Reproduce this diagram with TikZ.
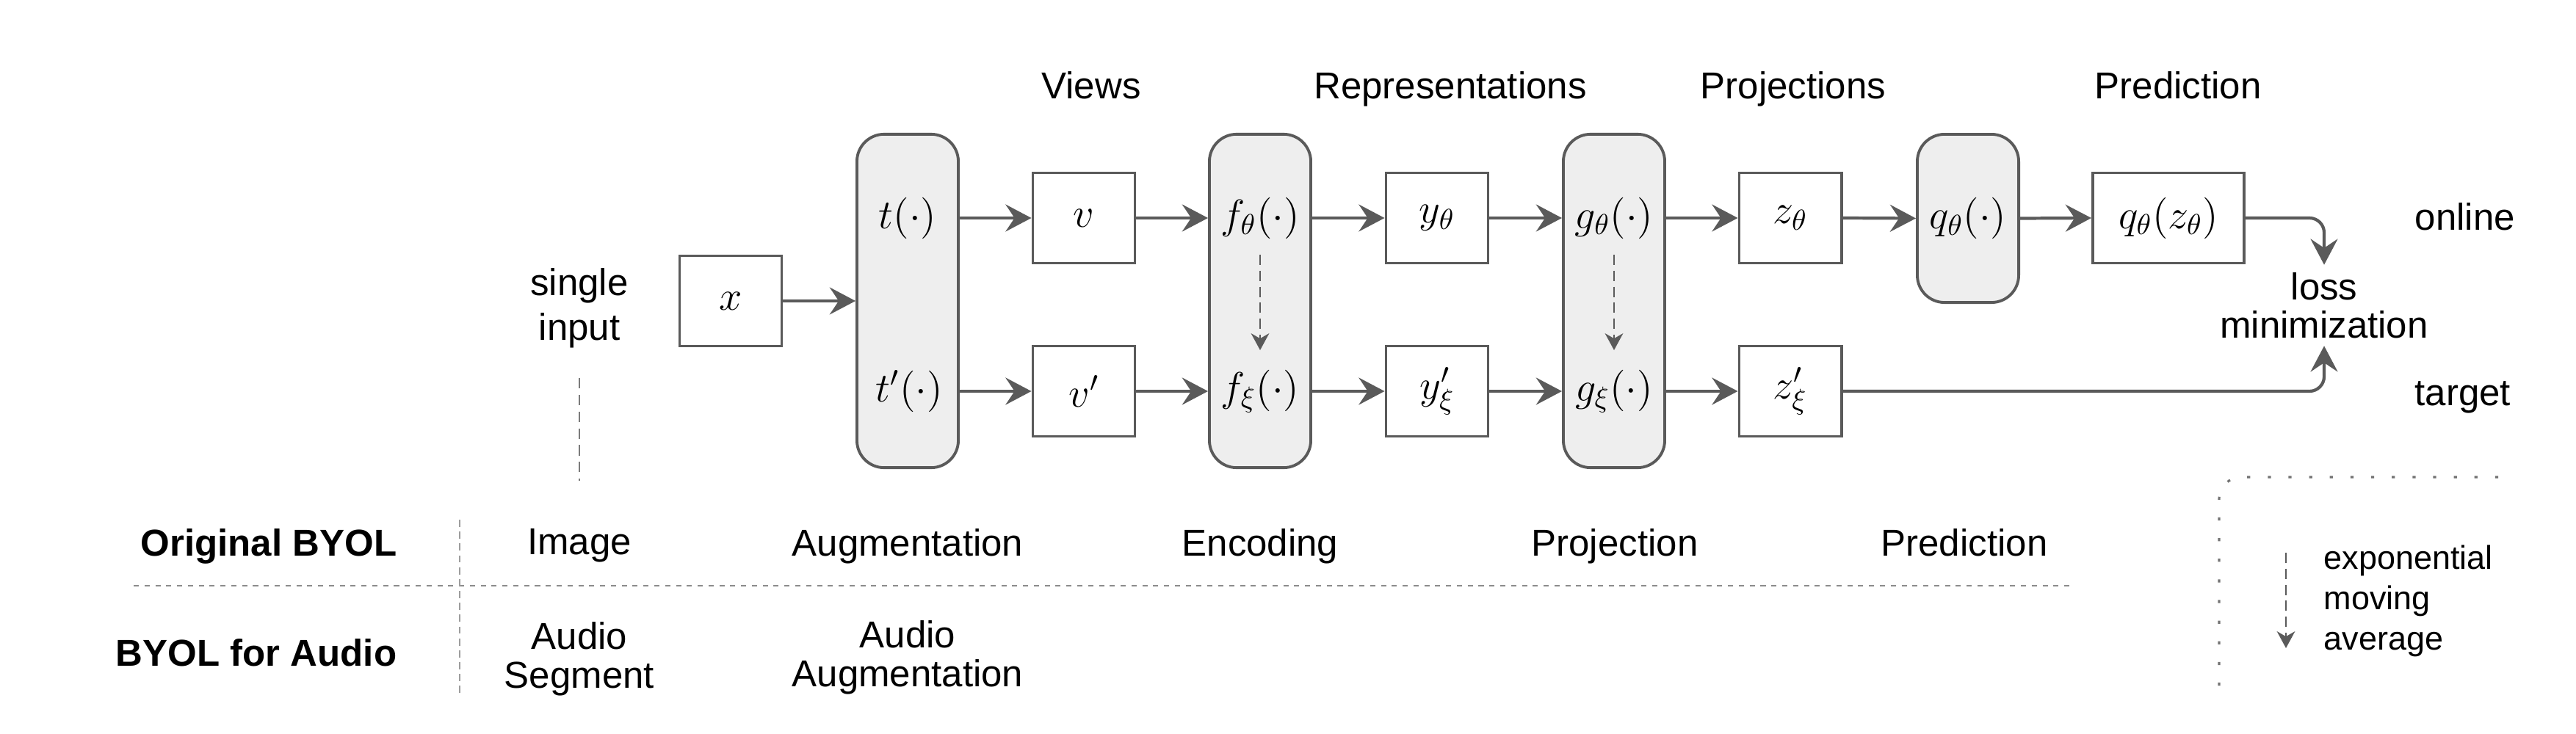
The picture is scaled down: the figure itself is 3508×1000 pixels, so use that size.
\RequirePackage{fix-cm}
\documentclass[tikz,border=0pt]{standalone}
\usepackage{fontspec}
\setsansfont{Liberation Sans}
\usetikzlibrary{arrows.meta}
\definecolor{lg}{HTML}{5A5A5A}
\definecolor{bgf}{HTML}{EEEEEE}
\definecolor{tbl}{HTML}{8C8C8C}
\newcommand\mfont{\fontsize{16}{19}\selectfont}
\newcommand\tfont{\sffamily\fontsize{14.5}{15}\selectfont}
\begin{document}
\begin{tikzpicture}[x=0.01cm,y=-0.01cm,
  box/.style={draw=lg, line width=1.1pt, fill=white, minimum width=1.39cm, minimum height=1.23cm, inner sep=0pt, font=\mfont},
  rbox/.style={draw=lg, line width=1.1pt, fill=bgf, rounded corners=0.37cm, minimum width=1.38cm, minimum height=4.54cm, inner sep=0pt},
  ml/.style={inner sep=0pt, font=\mfont},
  txt/.style={font=\tfont, text=black, inner sep=0pt},
  arr/.style={draw=lg, line width=1.2pt, -{Stealth[length=10pt,width=10.5pt,inset=3.5pt]}},
  ema/.style={draw=lg, line width=0.7pt, dash pattern=on 4pt off 2.2pt, -{Stealth[length=6.5pt,width=7pt,inset=2pt]}},
  tline/.style={draw=tbl, line width=0.6pt},
]
\useasboundingbox (0,0) rectangle (3508,1000);

% header labels
\node[txt, anchor=base] (hv) at (1486,134) {Views};
\node[txt, anchor=base] (hr) at (1975,134) {Representations};
\node[txt, anchor=base] (hp) at (2442,134) {Projections};
\node[txt, anchor=base] (hq) at (2966,134) {Prediction};

% input
\node[txt, align=center, font=\sffamily\fontsize{14.5}{17.3}\selectfont] (si) at (789,420) {single\\input};
\node[box] (x) at (995,410) {$x$};

% augmentation
\node[rbox] (t) at (1236,410) {};
\node[ml] (tl) at (1236,297) {$t(\cdot)$};
\node[ml] (tl2) at (1238,533) {$t'(\cdot)$};

% views
\node[box] (v) at (1476,297) {$v$};
\node[box] (v2) at (1476,533) {$v'$};

% encoders
\node[rbox] (f) at (1716,410) {};
\node[ml] (fl) at (1716,297) {$f_\theta(\cdot)$};
\node[ml] (fl2) at (1716,533) {$f_\xi(\cdot)$};

% representations
\node[box] (y) at (1957,297) {$y_\theta$};
\node[box] (y2) at (1957,533) {$y'_\xi$};

% projectors
\node[rbox] (g) at (2198,410) {};
\node[ml] (gl) at (2198,297) {$g_\theta(\cdot)$};
\node[ml] (gl2) at (2198,533) {$g_\xi(\cdot)$};

% projections
\node[box] (z) at (2438,297) {$z_\theta$};
\node[box] (z2) at (2438,533) {$z'_\xi$};

% predictor
\node[rbox, minimum height=2.29cm, font=\mfont] (q) at (2680,297.5) {$q_\theta(\cdot)$};
\node[box, minimum width=2.06cm] (qz) at (2953,297) {$q_\theta(z_\theta)$};

% loss
\node[txt, align=center, inner ysep=0.1cm, font=\sffamily\fontsize{14.5}{14.7}\selectfont] (loss) at (3165,416) {loss\\minimization};
\node[txt, anchor=base west] (on) at (3288,313) {online};
\node[txt, anchor=base west] (tg) at (3288,552) {target};

% connectors
\draw[arr] (x.east) -- (t.west);
\draw[arr] (t.east |- v.west) -- (v.west);
\draw[arr] (t.east |- v2.west) -- (v2.west);
\draw[arr] (v.east) -- (f.west |- v.east);
\draw[arr] (v2.east) -- (f.west |- v2.east);
\draw[arr] (f.east |- y.west) -- (y.west);
\draw[arr] (f.east |- y2.west) -- (y2.west);
\draw[arr] (y.east) -- (g.west |- y.east);
\draw[arr] (y2.east) -- (g.west |- y2.east);
\draw[arr] (g.east |- z.west) -- (z.west);
\draw[arr] (g.east |- z2.west) -- (z2.west);
\draw[arr] (z.east) -- (q.west);
\draw[arr] (q.east) -- (qz.west);
\draw[arr, rounded corners=0.2cm] (qz.east) -| (loss.north);
\draw[arr, rounded corners=0.2cm] (z2.east) -| (loss.south);

% EMA arrows
\draw[ema] ([yshift=0.63cm]f.center) -- ([yshift=-0.67cm]f.center);
\draw[ema] ([yshift=0.63cm]g.center) -- ([yshift=-0.67cm]g.center);

% single input dashed
\draw[draw=lg!80, line width=0.6pt, dash pattern=on 4pt off 2.5pt] (789,515) -- (789,655);

% table
\draw[tline, dash pattern=on 2pt off 2.2pt] (182,798) -- (2818,798);
\draw[tline, draw=tbl!85, line width=0.5pt, dash pattern=on 2.8pt off 1.8pt] (626,708) -- (626,947);

\node[txt, anchor=base east, font=\sffamily\bfseries\fontsize{14.5}{15}\selectfont] (ob) at (541,757) {Original BYOL};
\node[txt, anchor=base east, font=\sffamily\bfseries\fontsize{14.5}{15}\selectfont] (ba) at (541,907) {BYOL for Audio};
\node[txt, anchor=base] (c1) at (789,755) {Image};
\node[txt, anchor=base] (c2) at (1236,757) {Augmentation};
\node[txt, anchor=base] (c3) at (1716,757) {Encoding};
\node[txt, anchor=base] (c4) at (2199,757) {Projection};
\node[txt, anchor=base] (c5) at (2675,757) {Prediction};
\node[txt, align=center] (d1) at (789,898) {Audio\\Segment};
\node[txt, align=center] (d2) at (1236,896) {Audio\\Augmentation};

% legend
\draw[draw=lg!85, line width=0.9pt, dash pattern=on 1.2pt off 6.8pt, rounded corners=0.3cm] (3402,650) -| (3022,949);
\coordinate (emaA) at (3113,753);
\coordinate (emaB) at (3113,883);
\draw[ema] (emaA) -- (emaB);
\node[txt, anchor=west, align=left, font=\sffamily\fontsize{12.8}{15.6}\selectfont] (leg) at (3164,819) {exponential\\moving\\average};
\end{tikzpicture}
\end{document}
